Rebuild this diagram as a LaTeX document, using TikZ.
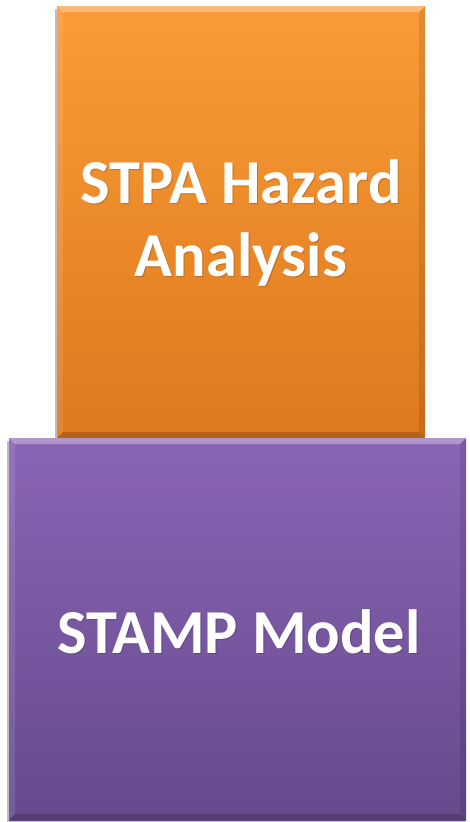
\documentclass[tikz,border=0pt]{standalone}
\usepackage{fontspec}
\setmainfont{Carlito}
\definecolor{orTop}{HTML}{FA9C36}
\definecolor{orBot}{HTML}{DD781F}
\definecolor{puTop}{HTML}{8A65B6}
\definecolor{puBot}{HTML}{664A8C}
\tikzset{
  boxtext/.style={font=\fontsize{62.5}{73}\selectfont\bfseries, align=center, inner sep=0pt},
  softshadow/.style={fill=black, fill opacity=0.25, draw=none}
}
% bevelled block: left x, top y, right x, bottom y, top colour, bottom colour
\newcommand{\bevelblock}[6]{%
  \def\bw{6}%
  \fill[softshadow] (#1-2,#2-3) rectangle (#3-1,#4-2);
  \shade[top color=#5, bottom color=#6] (#1,#2) rectangle (#3,#4);
  % top bevel
  \fill[white, fill opacity=0.32] (#1,#2) -- (#3,#2) -- (#3-\bw,#2-\bw) -- (#1+\bw,#2-\bw) -- cycle;
  % left bevel
  \fill[white, fill opacity=0.10] (#1,#2) -- (#1+\bw,#2-\bw) -- (#1+\bw,#4+\bw) -- (#1,#4) -- cycle;
  % right bevel
  \fill[black, fill opacity=0.10] (#3,#2) -- (#3-\bw,#2-\bw) -- (#3-\bw,#4+\bw) -- (#3,#4) -- cycle;
  % bottom bevel
  \fill[black, fill opacity=0.18] (#1,#4) -- (#3,#4) -- (#3-\bw,#4+\bw) -- (#1+\bw,#4+\bw) -- cycle;
}
\begin{document}
\begin{tikzpicture}[x=1pt,y=1pt]
  \useasboundingbox (0,0) rectangle (469,-822);
  \fill[white] (0,0) rectangle (469,-822);
  % upper block: hazard analysis
  \bevelblock{57}{-6}{425}{-438}{orTop}{orBot}
  % lower block: model
  \bevelblock{9}{-438}{466}{-820}{puTop}{puBot}
  % labels with a faint drop shadow
  \node[boxtext, text=black, text opacity=0.18] at (242,-224) {STPA Hazard\\Analysis};
  \node[boxtext, text=white] (stpa) at (241,-223) {STPA Hazard\\Analysis};
  \node[boxtext, text=black, text opacity=0.18] at (240,-633) {STAMP Model};
  \node[boxtext, text=white] (stamp) at (239,-632) {STAMP Model};
\end{tikzpicture}
\end{document}
